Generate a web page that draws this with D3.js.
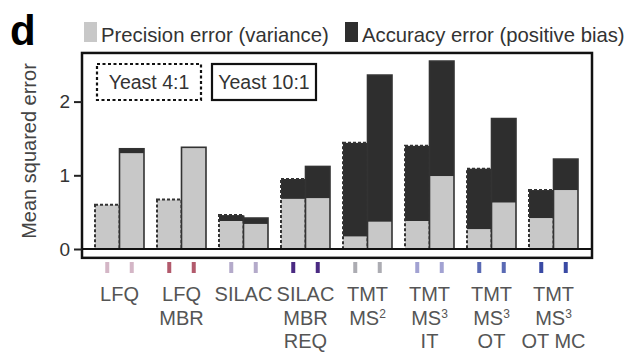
<!DOCTYPE html>
<html>
<head>
<meta charset="utf-8">
<script src="https://cdn.jsdelivr.net/npm/d3@7"></script>
<style>
  body { margin: 0; background: #fff; }
  text { font-family: "Liberation Sans", Arial, sans-serif; }
</style>
</head>
<body>
<svg id="chart" width="637" height="353"></svg>
<script>
// categories, label lines (superscript marked with ^)
const categories = ["LFQ", "LFQ MBR", "SILAC", "SILAC MBR REQ", "TMT MS2", "TMT MS3 IT", "TMT MS3 OT", "TMT MS3 OT MC"];
const labelLines = [["LFQ"], ["LFQ", "MBR"], ["SILAC"], ["SILAC", "MBR", "REQ"], ["TMT", "MS^2"], ["TMT", "MS^3", "IT"], ["TMT", "MS^3", "OT"], ["TMT", "MS^3", "OT MC"]];
const markColors = ["#d4b6c6", "#b25a6c", "#b4aaca", "#4a2a82", "#acacb2", "#a2a2d2", "#5a6ab4", "#3a4aa4"];

// mean squared error, Yeast 4:1 and Yeast 10:1
const precision41 = [0.60, 0.67, 0.38, 0.68, 0.17, 0.38, 0.27, 0.42];
const accuracy41  = [0.00, 0.00, 0.08, 0.27, 1.27, 1.02, 0.82, 0.38];
const precision101 = [1.30, 1.38, 0.34, 0.69, 0.37, 0.99, 0.63, 0.80];
const accuracy101  = [0.06, 0.00, 0.08, 0.43, 1.99, 1.56, 1.14, 0.42];

const yTicks = [0, 1, 2];

const svg = d3.select("#chart");
const light = "#c8c8c8", dark = "#2e2e2e";

const x = d3.scaleBand().domain(categories).range([88.5, 584.5]);
const y = d3.scaleLinear().domain([0, 2.5]).range([249, 249 - 2.5 * 73.7]);
const bw = 24.5;

// cut-off title fragment from above
svg.append("text").attr("x", 184).attr("y", -10)
    .style("font-size", "44px").style("font-weight", "bold").text("g");

// panel letter
svg.append("text").attr("x", 10).attr("y", 45)
    .style("font-size", "42px").style("font-weight", "bold").text("d");

// legend
const legend = [
    {x: 84, fill: light, label: "Precision error (variance)"},
    {x: 345, fill: dark, label: "Accuracy error (positive bias)"}
];
legend.forEach(l => {
    svg.append("rect").attr("x", l.x).attr("y", 22).attr("width", 13).attr("height", 20).attr("fill", l.fill);
    svg.append("text").attr("x", l.x + 17).attr("y", 42)
        .style("font-size", "20.3px").style("fill", "#333").text(l.label);
});

// bars
const center = d => x(d) + x.bandwidth() / 2;
function stack(i, x0, prec, acc, solid) {
    const g = svg.append("g");
    g.append("rect").attr("x", x0).attr("width", bw)
        .attr("y", y(prec)).attr("height", y(0) - y(prec)).attr("fill", light);
    if (acc > 0)
        g.append("rect").attr("x", x0).attr("width", bw)
            .attr("y", y(prec + acc)).attr("height", y(prec) - y(prec + acc)).attr("fill", dark);
    g.append("rect").attr("x", x0).attr("width", bw)
        .attr("y", y(prec + acc)).attr("height", y(0) - y(prec + acc))
        .attr("fill", "none").attr("stroke", "#333")
        .attr("stroke-width", solid ? 1.6 : 2)
        .attr("stroke-dasharray", solid ? null : "3,2");
}
categories.forEach((c, i) => {
    stack(i, center(c) - bw, precision41[i], accuracy41[i], false);
    stack(i, center(c), precision101[i], accuracy101[i], true);
});

// frame and zero line
svg.append("rect").attr("x", 82).attr("y", y(2.66)).attr("width", 510).attr("height", y(-0.12) - y(2.66))
    .attr("fill", "none").attr("stroke", "#111").attr("stroke-width", 2.5);
svg.append("line").attr("x1", 82).attr("x2", 592).attr("y1", y(0)).attr("y2", y(0))
    .attr("stroke", "#111").attr("stroke-width", 2.2);

// y axis
const yAxis = svg.append("g").attr("transform", "translate(82,0)")
    .call(d3.axisLeft(y).tickValues(yTicks).tickFormat(d3.format("d")).tickSize(8).tickPadding(4));
yAxis.select(".domain").remove();
yAxis.selectAll("line").attr("stroke", "#222").attr("stroke-width", 2);
yAxis.selectAll("text").style("font-size", "19px").style("fill", "#333")
    .style("font-family", "Liberation Sans, Arial, sans-serif");

svg.append("text").attr("transform", "translate(36,151) rotate(-90)")
    .attr("text-anchor", "middle").style("font-size", "20px").style("fill", "#444")
    .text("Mean squared error");

// condition keys
const key = [
    {x: 97, label: "Yeast 4:1", dash: "3,2.5"},
    {x: 212, label: "Yeast 10:1", dash: null}
];
key.forEach(k => {
    svg.append("rect").attr("x", k.x).attr("y", 64).attr("width", 104).attr("height", 36)
        .attr("fill", "#fff").attr("stroke", "#111").attr("stroke-width", 2.2)
        .attr("stroke-dasharray", k.dash);
    svg.append("text").attr("x", k.x + 52).attr("y", 89).attr("text-anchor", "middle")
        .style("font-size", "19.5px").style("fill", "#333").text(k.label);
});

// coloured marks under each bar
categories.forEach((c, i) => {
    [center(c) - bw / 2, center(c) + bw / 2].forEach(mx => {
        svg.append("rect").attr("x", mx - 2).attr("y", 262).attr("width", 4).attr("height", 11)
            .attr("fill", markColors[i]);
    });
});

// category labels
categories.forEach((c, i) => {
    labelLines[i].forEach((line, j) => {
        const t = svg.append("text").attr("x", center(c)).attr("y", 301 + j * 23.5)
            .attr("text-anchor", "middle").style("font-size", "20px").style("fill", "#555");
        const parts = line.split("^");
        t.append("tspan").text(parts[0]);
        if (parts[1]) t.append("tspan").attr("dy", -7).style("font-size", "12px").text(parts[1]);
    });
});
</script>
</body>
</html>
